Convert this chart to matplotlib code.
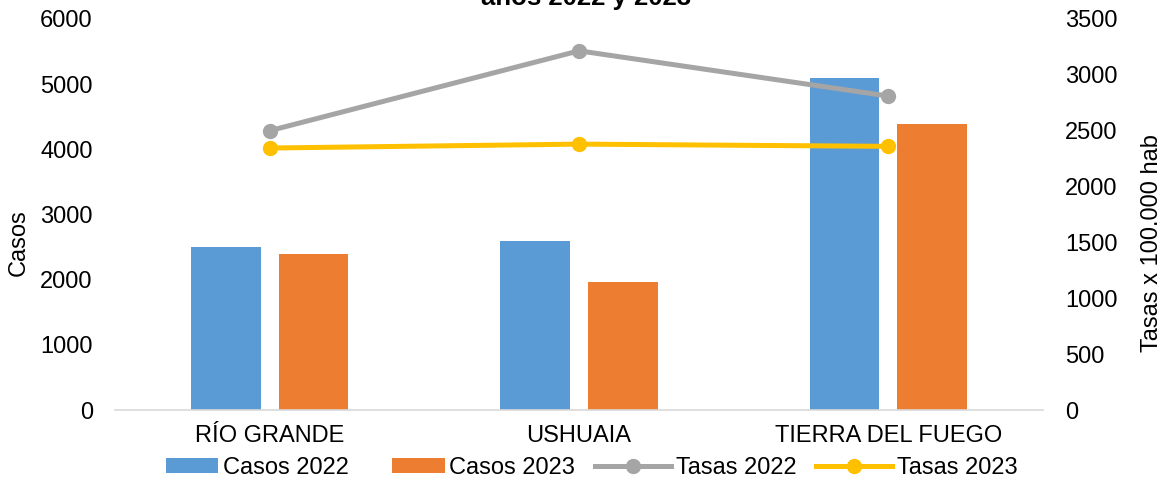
import matplotlib
matplotlib.use('Agg')
import matplotlib.pyplot as plt
from matplotlib.patches import Rectangle
from matplotlib.legend_handler import HandlerPatch
import numpy as np

# data
categories = ['RÍO GRANDE', 'USHUAIA', 'TIERRA DEL FUEGO']
casos_2022 = [2500, 2590, 5100]
casos_2023 = [2400, 1970, 4390]
tasas_2022 = [2500, 3215, 2810]
tasas_2023 = [2345, 2380, 2360]

plt.rcParams['font.family'] = ['Liberation Sans', 'DejaVu Sans']
plt.rcParams['font.size'] = 17

BLUE = '#5B9BD5'
ORANGE = '#ED7D31'
GREY = '#A5A5A5'
YELLOW = '#FFC000'


def right_patch(legend, orig_handle, xdescent, ydescent, width, height, fontsize):
    # excel style: the colour box is shorter than the line samples
    w = width * 0.7
    return Rectangle((-xdescent + width - w, -ydescent), w, height)


fig = plt.figure(figsize=(11.68, 4.83), dpi=100)
ax = fig.add_axes([0.0985, 0.1511, 0.7945, 0.8096])
ax2 = ax.twinx()

x = np.arange(len(categories))
bw = 0.225
b1 = ax.bar(x - 0.142, casos_2022, bw, color=BLUE, label='Casos 2022')
b2 = ax.bar(x + 0.142, casos_2023, bw, color=ORANGE, label='Casos 2023')

l1, = ax2.plot(x, tasas_2022, color=GREY, lw=3.6, marker='o', ms=10,
               label='Tasas 2022')
l2, = ax2.plot(x, tasas_2023, color=YELLOW, lw=3.6, marker='o', ms=10,
               label='Tasas 2023')

ax.set_xlim(-0.5, 2.5)
ax.set_ylim(0, 6000)
ax.set_yticks(range(0, 6001, 1000))
ax2.set_ylim(0, 3500)
ax2.set_yticks(range(0, 3501, 500))
ax.set_xticks(x)
ax.set_xticklabels(categories)

for a in (ax, ax2):
    for s in a.spines.values():
        s.set_visible(False)
    a.tick_params(length=0)
ax.spines['bottom'].set_visible(True)
ax.spines['bottom'].set_color('#D9D9D9')
ax.spines['bottom'].set_linewidth(1.2)
ax.tick_params(axis='y', pad=16)
ax.tick_params(axis='x', pad=11)
ax2.tick_params(axis='y', pad=16)

ax.set_ylabel('Casos')
ax.yaxis.set_label_coords(-0.092, 0.427)
ax2.set_ylabel('Tasas x 100.000 hab')
ax2.yaxis.set_label_coords(1.106, 0.427)

fig.text(0.502, 0.99, 'años 2022 y 2023', ha='center', va='baseline',
         fontsize=18.5, fontweight='bold')

fig.legend([b1.patches[0], b2.patches[0], l1, l2],
           ['Casos 2022', 'Casos 2023', 'Tasas 2022', 'Tasas 2023'],
           loc='center', bbox_to_anchor=(0.4966, 0.031), ncol=4, frameon=False,
           handlelength=3.2, handleheight=0.6, handletextpad=0.2,
           columnspacing=0.85, borderpad=0.1,
           handler_map={Rectangle: HandlerPatch(patch_func=right_patch)})

out_png = 'out.png'
plt.savefig(out_png, dpi=100)
